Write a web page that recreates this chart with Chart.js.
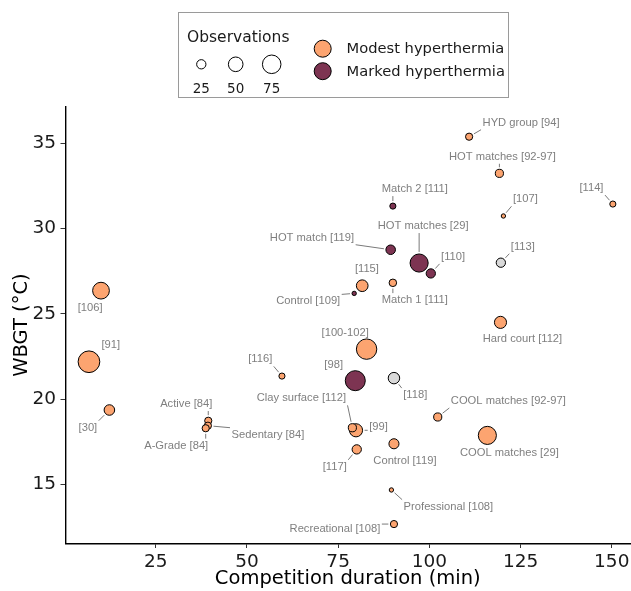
<!DOCTYPE html>
<html>
<head>
<meta charset="utf-8">
<script src="https://cdn.jsdelivr.net/npm/chart.js@4"></script>
<style>
  html, body { margin: 0; padding: 0; background: #fff; }
  #wrap { width: 631px; height: 591px; position: relative; }
</style>
</head>
<body>
<div id="wrap"><canvas id="c" width="631" height="591"></canvas></div>
<script>
// ---------------- DATA ----------------
const studyLabels = [
  "HYD group [94]", "HOT matches [92-97]", "Match 2 [111]", "[107]", "[114]",
  "HOT match [119]", "HOT matches [29]", "[110]", "[113]", "[115]",
  "Control [109]", "Match 1 [111]", "Hard court [112]", "[100-102]", "[106]",
  "[91]", "[30]", "Active [84]", "Sedentary [84]", "A-Grade [84]",
  "[116]", "[98]", "[118]", "[99]", "Clay surface [112]",
  "COOL matches [92-97]", "COOL matches [29]", "[117]", "Control [119]", "Professional [108]",
  "Recreational [108]"
];
const durationMin = [
  110.9, 119.2, 90.0, 120.3, 150.3,
  89.4, 97.2, 100.4, 119.6, 81.6,
  79.4, 90.0, 119.5, 82.8, 10.0,
  6.7, 12.3, 39.4, 39.3, 38.7,
  59.6, 79.7, 90.3, 79.9, 78.9,
  102.3, 115.9, 80.1, 90.3, 89.6,
  90.3
];
const wbgtC = [
  35.39, 33.24, 31.32, 30.74, 31.44,
  28.76, 27.98, 27.37, 28.00, 26.65,
  26.20, 26.82, 24.50, 22.93, 26.36,
  22.19, 19.36, 18.73, 18.44, 18.29,
  21.35, 21.08, 21.23, 18.17, 18.32,
  18.95, 17.87, 17.05, 17.38, 14.67,
  12.67
];
const observations = [
  18, 21, 15, 11, 15,
  26, 72, 25, 25, 35,
  11, 19, 37, 89, 63,
  99, 30, 18, 18, 18,
  15, 86, 34, 42, 21,
  21, 72, 25, 28, 11,
  18
];
const hyperthermia = [
  "modest", "modest", "marked", "modest", "modest",
  "marked", "marked", "marked", "none", "modest",
  "marked", "modest", "modest", "modest", "modest",
  "modest", "modest", "modest", "modest", "modest",
  "modest", "marked", "none", "modest", "modest",
  "modest", "modest", "modest", "modest", "modest",
  "modest"
];
const groupKeys = ["modest", "marked", "none"];
const groupNames = ["Modest hyperthermia", "Marked hyperthermia"];
const sizeLegendValues = [25, 50, 75];
const sizeLegendTitle = "Observations";
const xTicks = [25, 50, 75, 100, 125, 150];
const yTicks = [15, 20, 25, 30, 35];
const xTitle = "Competition duration (min)";
const yTitle = "WBGT (°C)";

// ---------------- LAYOUT / STYLE (not data) ----------------
// label text-centre offsets from the point centre, in pixels (repel layout)
const labelOffsets = [
  [52, -14], [3, -16.6], [22, -17], [22, -16.7], [-21.4, -16],
  [-78.7, -12], [4, -37], [22.3, -16.6], [22, -16], [4.7, -16.4],
  [-46, 8], [22, 17.3], [22, 17], [-21.4, -16.7], [-10.8, 17.6],
  [21.8, -16.7], [-21.5, 17.7], [-22, -16.7], [60, 9], [-29.5, 17.4],
  [-21.7, -16.7], [-21.6, -16], [21.3, 17], [22.5, -3], [-51, -29.4],
  [70.6, -16], [22, 17.4], [-22, 17.4], [11, 17], [57, 16.7],
  [-59, 5]
];
const groupColors = { modest: "#FCA470", marked: "#7D3452", none: "#D9D9D9" };
const AXIS_FONT = "DejaVu Sans";
const LABEL_FONT = "Liberation Sans, Arial, sans-serif";

// area-proportional size scale (outer radius in px)
function outerRadius(n) { return Math.sqrt(Math.max(5, 1.38 * n - 8)); }
function pathRadius(n) { return outerRadius(n) - 0.5; }

const datasets = groupKeys.map(g => {
  const idx = [];
  hyperthermia.forEach((h, i) => { if (h === g) idx.push(i); });
  return {
    label: g,
    data: idx.map(i => ({ x: durationMin[i], y: wbgtC[i], r: pathRadius(observations[i]), idx: i })),
    backgroundColor: groupColors[g],
    borderColor: "#000",
    borderWidth: 1,
    hoverBorderWidth: 1,
    hoverRadius: 0
  };
}).reverse(); // dataset 0 drawn on top

const labelPlugin = {
  id: "repelLabels",
  afterDatasetsDraw(chart) {
    const ctx = chart.ctx;
    const xs = chart.scales.x, ys = chart.scales.y;
    ctx.save();
    ctx.font = "11.2px " + LABEL_FONT;
    ctx.textAlign = "center";
    ctx.textBaseline = "middle";
    for (let i = 0; i < studyLabels.length; i++) {
      const px = xs.getPixelForValue(durationMin[i]);
      const py = ys.getPixelForValue(wbgtC[i]);
      const cx = px + labelOffsets[i][0];
      const cy = py + labelOffsets[i][1];
      const w = ctx.measureText(studyLabels[i]).width;
      const h = 11;
      const pad = 1.5;
      const l = cx - w / 2 - pad, r = cx + w / 2 + pad, t = cy - h / 2 - pad, b = cy + h / 2 + pad;
      const qx = Math.min(Math.max(px, l), r);
      const qy = Math.min(Math.max(py, t), b);
      const dx = qx - px, dy = qy - py;
      const d = Math.hypot(dx, dy);
      const rad = outerRadius(observations[i]) + 1.5;
      if (d - rad > 3) {
        const ux = dx / d, uy = dy / d;
        ctx.strokeStyle = "#7a7a7a";
        ctx.lineWidth = 1;
        ctx.beginPath();
        ctx.moveTo(px + ux * rad, py + uy * rad);
        ctx.lineTo(qx, qy);
        ctx.stroke();
      }
      ctx.fillStyle = "#7f7f7f";
      ctx.fillText(studyLabels[i], cx, cy);
    }
    ctx.restore();
  },
  afterDraw(chart) {
    const ctx = chart.ctx;
    const ca = chart.chartArea;
    ctx.save();
    // axis titles
    ctx.fillStyle = "#000";
    ctx.font = "19.5px " + AXIS_FONT;
    ctx.textAlign = "center";
    ctx.textBaseline = "middle";
    ctx.fillText(xTitle, (ca.left + ca.right) / 2, 579);
    ctx.save();
    ctx.translate(21.5, (ca.top + ca.bottom) / 2);
    ctx.rotate(-Math.PI / 2);
    ctx.fillText(yTitle, 0, 0);
    ctx.restore();

    // legend box
    ctx.fillStyle = "#fff";
    ctx.fillRect(178.5, 12.5, 330, 85);
    ctx.strokeStyle = "#9a9a9a";
    ctx.lineWidth = 1;
    ctx.strokeRect(178.5, 12.5, 330, 85);

    ctx.fillStyle = "#1a1a1a";
    ctx.textAlign = "left";
    ctx.font = "15.5px " + AXIS_FONT;
    ctx.fillText(sizeLegendTitle, 187, 37.5);

    const sizeX = [201.3, 235.7, 271.7];
    ctx.font = "13.5px " + AXIS_FONT;
    ctx.textAlign = "center";
    sizeLegendValues.forEach((v, k) => {
      ctx.beginPath();
      ctx.arc(sizeX[k], 64.3, pathRadius(v), 0, Math.PI * 2);
      ctx.fillStyle = "#fff";
      ctx.fill();
      ctx.strokeStyle = "#000";
      ctx.lineWidth = 1;
      ctx.stroke();
      ctx.fillStyle = "#1a1a1a";
      ctx.fillText(String(v), sizeX[k], 89.5);
    });

    const colY = [48.7, 71.2];
    ctx.font = "14.7px " + AXIS_FONT;
    ctx.textAlign = "left";
    groupNames.forEach((name, k) => {
      ctx.beginPath();
      ctx.arc(322.7, colY[k], 8.5, 0, Math.PI * 2);
      ctx.fillStyle = groupColors[groupKeys[k]];
      ctx.fill();
      ctx.strokeStyle = "#000";
      ctx.lineWidth = 1;
      ctx.stroke();
      ctx.fillStyle = "#1a1a1a";
      ctx.fillText(name, 346.5, colY[k] + 0.5);
    });
    ctx.restore();
  }
};

new Chart(document.getElementById("c"), {
  type: "bubble",
  data: { datasets },
  options: {
    responsive: false,
    animation: false,
    events: [],
    layout: { autoPadding: false, padding: { top: 106.7, right: 1, left: 0, bottom: 0 } },
    plugins: { legend: { display: false }, tooltip: { enabled: false } },
    scales: {
      x: {
        type: "linear",
        min: 0.27, max: 155.0,
        afterBuildTicks: s => { s.ticks = xTicks.map(v => ({ value: v })); },
        afterFit: s => { s.height = 47.5; s.paddingLeft = 0; s.paddingRight = 0; },
        ticks: { font: { family: AXIS_FONT, size: 18.5 }, color: "#1a1a1a", padding: 3, maxRotation: 0, autoSkip: false },
        grid: { display: true, drawOnChartArea: false, drawTicks: true, tickLength: 4.5, color: "#333", lineWidth: 1 },
        border: { display: true, color: "#000", width: 1.4 },
        title: { display: false }
      },
      y: {
        type: "linear",
        min: 11.53, max: 37.15,
        afterBuildTicks: s => { s.ticks = yTicks.map(v => ({ value: v })); },
        afterFit: s => { s.width = 65.5; s.paddingTop = 0; s.paddingBottom = 0; },
        ticks: { font: { family: AXIS_FONT, size: 18.5 }, color: "#1a1a1a", padding: 4.5, autoSkip: false },
        grid: { display: true, drawOnChartArea: false, drawTicks: true, tickLength: 5, color: "#333", lineWidth: 1 },
        border: { display: true, color: "#000", width: 1.4 },
        title: { display: false }
      }
    }
  },
  plugins: [labelPlugin]
});
</script>
</body>
</html>
